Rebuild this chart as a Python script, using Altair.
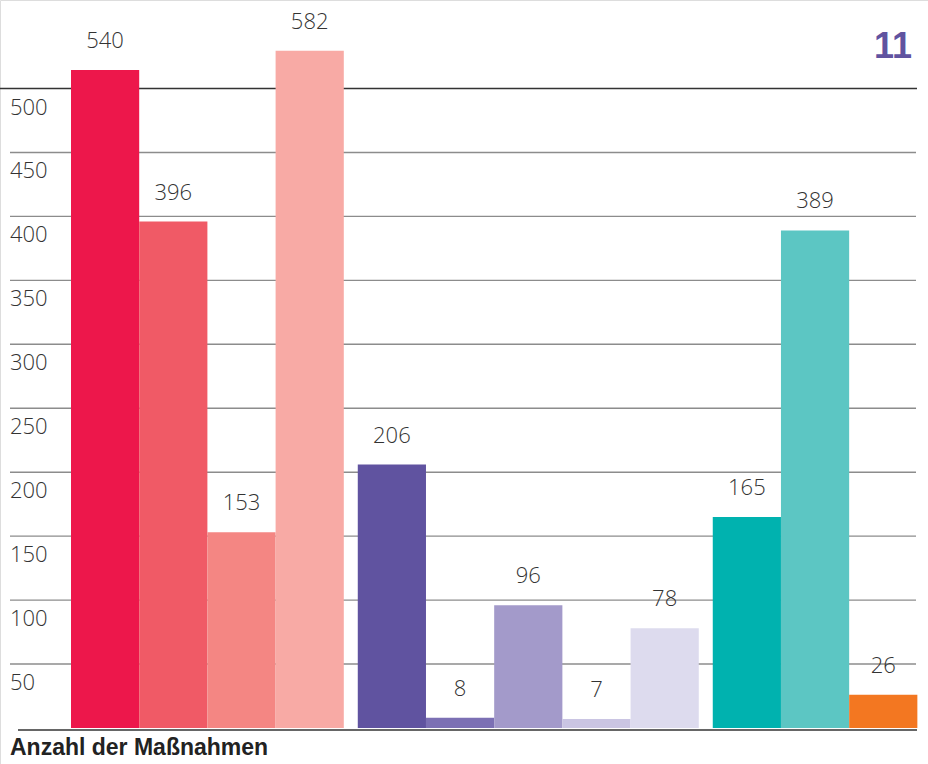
import altair as alt
import pandas as pd

# ---- data ----
categories = ["R1", "R2", "R3", "R4", "P1", "P2", "P3", "P4", "P5", "T1", "T2", "O1"]
groups = [0, 0, 0, 0, 1, 1, 1, 1, 1, 2, 2, 2]
values = [540, 396, 153, 582, 206, 8, 96, 7, 78, 165, 389, 26]
colors = ["#ED174B", "#F05A66", "#F48683", "#F8AAA5",
          "#6053A0", "#7C70B4", "#A39ACA", "#CAC5E3", "#DDDBEE",
          "#00B2AF", "#5CC6C3", "#F37721"]
grid_ticks = [50, 100, 150, 200, 250, 300, 350, 400, 450]
top_tick = [500]
tick_labels = ["50", "100", "150", "200", "250", "300", "350", "400", "450", "500"]
axis_title = "Anzahl der Maßnahmen"
page_number = "11"

FONT = "Open Sans"
W, H = 928, 764
GAP = 0.205

df = pd.DataFrame({"cat": categories, "grp": groups, "value": values,
                   "idx": list(range(len(values)))})
ticks_df = pd.DataFrame({"v": grid_ticks})
top_df = pd.DataFrame({"v": top_tick})
lab_df = pd.DataFrame({"v": grid_ticks + top_tick, "t": tick_labels})

xscale = alt.Scale(domain=[-71 / 68.2, (W - 71) / 68.2], range=[0, W])
yscale = alt.Scale(domain=[0, 500, 600], range=[728, 88.5, 42.5], nice=False, zero=False)

base = alt.Chart(df).transform_calculate(
    start="datum.idx + datum.grp * %f" % GAP,
    end="datum.idx + datum.grp * %f + 1" % GAP,
    mid="datum.idx + datum.grp * %f + 0.5" % GAP,
)

grid = alt.Chart(ticks_df).mark_rule(color="#8C8C8C", strokeWidth=1.4).encode(
    y=alt.Y("v:Q", scale=yscale, axis=None),
    x=alt.value(10), x2=alt.value(916),
)
top_line = alt.Chart(top_df).mark_rule(color="#333333", strokeWidth=1.6).encode(
    y=alt.Y("v:Q", scale=yscale, axis=None),
    x=alt.value(0), x2=alt.value(917),
)
ylabels = alt.Chart(lab_df).mark_text(
    align="left", baseline="middle", dy=19, font=FONT, fontSize=22, fontWeight=300,
    color="#333333"
).encode(
    y=alt.Y("v:Q", scale=yscale, axis=None),
    x=alt.value(10),
    text="t:N",
)

bars = base.mark_bar().encode(
    x=alt.X("start:Q", scale=xscale, axis=None),
    x2="end:Q",
    y=alt.Y("value:Q", scale=yscale, axis=None),
    y2=alt.datum(0),
    color=alt.Color("cat:N", scale=alt.Scale(domain=categories, range=colors), legend=None),
)

vlabels = base.mark_text(
    baseline="alphabetic", dy=-22, font=FONT, fontSize=22, fontWeight=300, color="#333333"
).encode(
    x=alt.X("mid:Q", scale=xscale, axis=None),
    y=alt.Y("value:Q", scale=yscale, axis=None),
    text="value:Q",
)

baseline_rule = alt.Chart(pd.DataFrame({"v": [0]})).mark_rule(
    color="#333333", strokeWidth=1.6, yOffset=2
).encode(
    y=alt.Y("v:Q", scale=yscale, axis=None),
    x=alt.value(18), x2=alt.value(917),
)

title_txt = alt.Chart(pd.DataFrame({"t": [axis_title]})).mark_text(
    align="left", baseline="alphabetic", font="Liberation Sans", fontSize=23,
    fontWeight="bold", color="#222222"
).encode(x=alt.value(10), y=alt.value(755), text="t:N")

page_txt = alt.Chart(pd.DataFrame({"t": [page_number]})).mark_text(
    align="right", baseline="alphabetic", font="Liberation Sans", fontSize=36,
    fontWeight="bold", color="#6053A0"
).encode(x=alt.value(912), y=alt.value(58), text="t:N")

chart = alt.layer(
    grid, top_line, bars, ylabels, vlabels, baseline_rule, title_txt, page_txt
).properties(
    width=W, height=H, autosize=alt.AutoSizeParams(type="none"), padding=0
).configure_view(stroke=None).configure(background="white")

chart.save("out.html", embed_options={"renderer": "svg", "actions": False})
